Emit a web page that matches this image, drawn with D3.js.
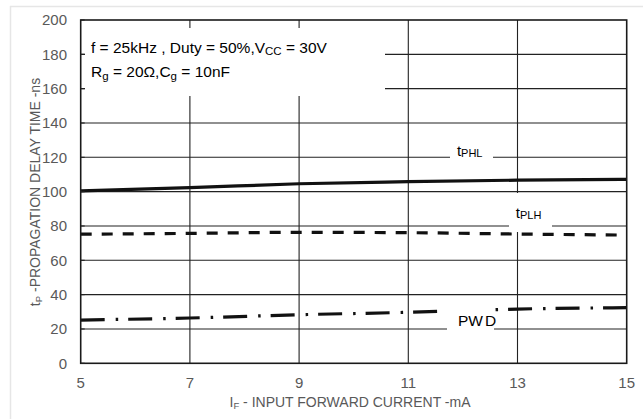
<!DOCTYPE html>
<html><head><meta charset="utf-8">
<script src="https://cdn.jsdelivr.net/npm/d3@7"></script>
<style>body{margin:0;background:#fff}svg{display:block;font-family:"Liberation Sans",Arial,sans-serif}</style>
</head><body><svg id="c" width="643" height="419"></svg>
<script>
const currentX = [5, 7, 9, 11, 13, 15];
const tPHL = [100.5, 102.3, 104.6, 105.8, 106.7, 107.2];
const tPLH = [75.2, 75.7, 76.3, 76.1, 75.3, 74.7];
const PWD  = [25.2, 26.4, 28.3, 29.7, 31.6, 32.4];
const xTicks = [5, 7, 9, 11, 13, 15];
const yTicks = [0, 20, 40, 60, 80, 100, 120, 140, 160, 180, 200];

const svg = d3.select("#c");
const x = d3.scaleLinear().domain([5, 15]).range([80.7, 626.7]);
const y = d3.scaleLinear().domain([0, 200]).range([363.3, 20]);

// outer light frame
svg.append("line").attr("x1",10).attr("x2",643).attr("y1",6.5).attr("y2",6.5).attr("stroke","#e6e6e6").attr("stroke-width",1.5);
svg.append("line").attr("x1",10.5).attr("x2",10.5).attr("y1",6).attr("y2",419).attr("stroke","#e6e6e6").attr("stroke-width",1.5);

// gridlines
const g = svg.append("g");
g.selectAll(".hg").data(yTicks.filter(d=>d>0&&d<200)).enter().append("line")
  .attr("x1",x(5)).attr("x2",x(15)).attr("y1",d=>y(d)).attr("y2",d=>y(d))
  .attr("stroke","#222").attr("stroke-width",1.1);
g.selectAll(".vg").data(xTicks.filter(d=>d>5&&d<15)).enter().append("line")
  .attr("x1",d=>x(d)).attr("x2",d=>x(d)).attr("y1",y(0)).attr("y2",y(200))
  .attr("stroke","#222").attr("stroke-width",1.1);

// condition text box
svg.append("rect").attr("x",85).attr("y",28).attr("width",300).attr("height",68).attr("fill","#fff");
const t1 = svg.append("text").attr("x",91).attr("y",53).attr("font-size",15.5).attr("fill","#000");
t1.append("tspan").text("f = 25kHz , Duty = 50%,V");
t1.append("tspan").attr("font-size",11.5).attr("dy",1.5).text("CC");
t1.append("tspan").attr("dy",-1.5).text(" = 30V");
const t2 = svg.append("text").attr("x",91).attr("y",77).attr("font-size",15.5).attr("fill","#000");
t2.append("tspan").text("R");
t2.append("tspan").attr("font-size",11.5).attr("dy",3).text("g");
t2.append("tspan").attr("dy",-3).text(" = 20\u03A9,C");
t2.append("tspan").attr("font-size",11.5).attr("dy",3).text("g");
t2.append("tspan").attr("dy",-3).text(" = 10nF");

// series
const line = d3.line().x((d,i)=>x(currentX[i])).y(d=>y(d)).curve(d3.curveMonotoneX);
svg.append("path").attr("d",line(tPHL)).attr("fill","none").attr("stroke","#111").attr("stroke-width",3.2);
svg.append("path").attr("d",line(tPLH)).attr("fill","none").attr("stroke","#111").attr("stroke-width",3.2)
  .attr("stroke-dasharray","11,10");
svg.append("path").attr("d",line(PWD)).attr("fill","none").attr("stroke","#111").attr("stroke-width",3.2)
  .attr("stroke-dasharray","24,11,2.5,10");

// series labels with white boxes
const labels = [
  {name:"t", sub:"PHL", x:11.89, y:120.8, box:[450,140,43,22]},
  {name:"t", sub:"PLH", x:12.97, y:84.4, box:[509,193,43,39]},
];
labels.forEach(l=>{
  svg.append("rect").attr("x",l.box[0]).attr("y",l.box[1]).attr("width",l.box[2]).attr("height",l.box[3]).attr("fill","#fff");
  const t = svg.append("text").attr("x",x(l.x)).attr("y",y(l.y)).attr("font-size",15).attr("fill","#000");
  t.append("tspan").text(l.name);
  t.append("tspan").attr("font-size",11).attr("dy",1).text(l.sub);
});
svg.append("rect").attr("x",447).attr("y",300).attr("width",47).attr("height",35).attr("fill","#fff");
const pw = svg.append("text").attr("x",x(11.91)).attr("y",y(21.8)).attr("font-size",15.5).attr("fill","#000");
pw.append("tspan").text("PW");
pw.append("tspan").attr("dx",2).text("D");

// plot border
svg.append("rect").attr("x",x(5)).attr("y",y(200)).attr("width",x(15)-x(5)).attr("height",y(0)-y(200))
  .attr("fill","none").attr("stroke","#1a1a1a").attr("stroke-width",1.6);
// left tick stubs
svg.selectAll(".tk").data(yTicks).enter().append("line")
  .attr("x1",x(5)).attr("x2",x(5)+4).attr("y1",d=>y(d)).attr("y2",d=>y(d)).attr("stroke","#222").attr("stroke-width",1.1);

// tick labels
svg.selectAll(".yl").data(yTicks).enter().append("text")
  .attr("x",67).attr("y",d=>y(d)+5.3).attr("text-anchor","end").attr("font-size",15).attr("fill","#595959").text(d=>d);
svg.selectAll(".xl").data(xTicks).enter().append("text")
  .attr("x",d=>x(d)).attr("y",388).attr("text-anchor","middle").attr("font-size",15).attr("fill","#595959").text(d=>d);

// axis titles
const xt = svg.append("text").attr("x",350).attr("y",407).attr("text-anchor","middle").attr("font-size",14).attr("fill","#595959");
xt.append("tspan").text("I");
xt.append("tspan").attr("font-size",9.5).attr("dy",2).text("F");
xt.append("tspan").attr("dy",-2).text(" - INPUT FORWARD CURRENT -mA");
const yt = svg.append("text").attr("transform","translate(40,192) rotate(-90)").attr("text-anchor","middle").attr("font-size",14).attr("fill","#595959");
yt.append("tspan").text("t");
yt.append("tspan").attr("font-size",9.5).attr("dy",2).text("P");
yt.append("tspan").attr("dy",-2).text(" -PROPAGATION DELAY TIME -ns");
</script></body></html>
